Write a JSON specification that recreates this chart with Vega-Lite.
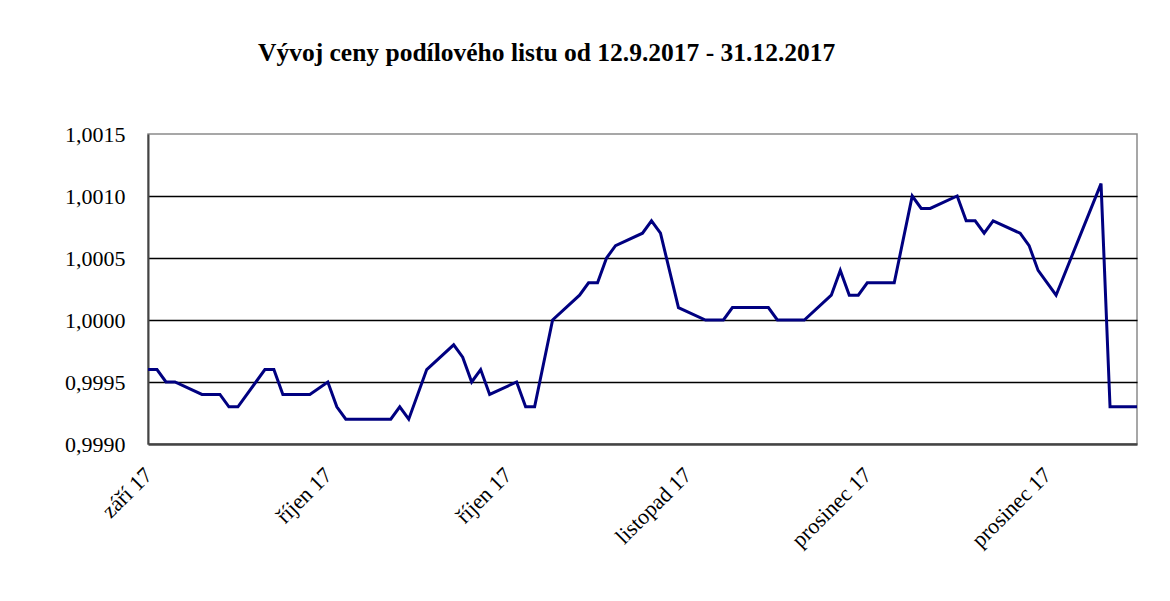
{
  "$schema": "https://vega.github.io/schema/vega-lite/v6.json",
  "width": 989,
  "height": 310,
  "autosize": {"type": "none"},
  "padding": {"left": 148, "top": 134, "right": 33, "bottom": 157},
  "background": "white",
  "title": {
    "text": "Vývoj ceny podílového listu od 12.9.2017 - 31.12.2017",
    "anchor": "start",
    "frame": "group",
    "dx": 110,
    "offset": 37,
    "baseline": "alphabetic",
    "font": "Liberation Serif",
    "fontSize": 25.5,
    "fontWeight": "bold",
    "color": "#000000"
  },
  "data": {
    "values": [
      {"den": "2017-09-12", "cena": 0.9996},
      {"den": "2017-09-13", "cena": 0.9996},
      {"den": "2017-09-14", "cena": 0.9995},
      {"den": "2017-09-15", "cena": 0.9995},
      {"den": "2017-09-18", "cena": 0.9994},
      {"den": "2017-09-20", "cena": 0.9994},
      {"den": "2017-09-21", "cena": 0.9993},
      {"den": "2017-09-22", "cena": 0.9993},
      {"den": "2017-09-25", "cena": 0.9996},
      {"den": "2017-09-26", "cena": 0.9996},
      {"den": "2017-09-27", "cena": 0.9994},
      {"den": "2017-09-30", "cena": 0.9994},
      {"den": "2017-10-02", "cena": 0.9995},
      {"den": "2017-10-03", "cena": 0.9993},
      {"den": "2017-10-04", "cena": 0.9992},
      {"den": "2017-10-09", "cena": 0.9992},
      {"den": "2017-10-10", "cena": 0.9993},
      {"den": "2017-10-11", "cena": 0.9992},
      {"den": "2017-10-13", "cena": 0.9996},
      {"den": "2017-10-16", "cena": 0.9998},
      {"den": "2017-10-17", "cena": 0.9997},
      {"den": "2017-10-18", "cena": 0.9995},
      {"den": "2017-10-19", "cena": 0.9996},
      {"den": "2017-10-20", "cena": 0.9994},
      {"den": "2017-10-23", "cena": 0.9995},
      {"den": "2017-10-24", "cena": 0.9993},
      {"den": "2017-10-25", "cena": 0.9993},
      {"den": "2017-10-27", "cena": 1.0000},
      {"den": "2017-10-30", "cena": 1.0002},
      {"den": "2017-10-31", "cena": 1.0003},
      {"den": "2017-11-01", "cena": 1.0003},
      {"den": "2017-11-02", "cena": 1.0005},
      {"den": "2017-11-03", "cena": 1.0006},
      {"den": "2017-11-06", "cena": 1.0007},
      {"den": "2017-11-07", "cena": 1.0008},
      {"den": "2017-11-08", "cena": 1.0007},
      {"den": "2017-11-10", "cena": 1.0001},
      {"den": "2017-11-13", "cena": 1.0000},
      {"den": "2017-11-15", "cena": 1.0000},
      {"den": "2017-11-16", "cena": 1.0001},
      {"den": "2017-11-20", "cena": 1.0001},
      {"den": "2017-11-21", "cena": 1.0000},
      {"den": "2017-11-24", "cena": 1.0000},
      {"den": "2017-11-27", "cena": 1.0002},
      {"den": "2017-11-28", "cena": 1.0004},
      {"den": "2017-11-29", "cena": 1.0002},
      {"den": "2017-11-30", "cena": 1.0002},
      {"den": "2017-12-01", "cena": 1.0003},
      {"den": "2017-12-04", "cena": 1.0003},
      {"den": "2017-12-06", "cena": 1.0010},
      {"den": "2017-12-07", "cena": 1.0009},
      {"den": "2017-12-08", "cena": 1.0009},
      {"den": "2017-12-11", "cena": 1.0010},
      {"den": "2017-12-12", "cena": 1.0008},
      {"den": "2017-12-13", "cena": 1.0008},
      {"den": "2017-12-14", "cena": 1.0007},
      {"den": "2017-12-15", "cena": 1.0008},
      {"den": "2017-12-18", "cena": 1.0007},
      {"den": "2017-12-19", "cena": 1.0006},
      {"den": "2017-12-20", "cena": 1.0004},
      {"den": "2017-12-22", "cena": 1.0002},
      {"den": "2017-12-27", "cena": 1.0011},
      {"den": "2017-12-28", "cena": 0.9993},
      {"den": "2017-12-31", "cena": 0.9993}
    ]
  },
  "mark": {"type": "line", "color": "#000080", "strokeWidth": 3},
  "encoding": {
    "x": {
      "field": "den",
      "type": "temporal",
      "scale": {
        "type": "utc",
        "domain": [
          {"year": 2017, "month": 9, "date": 12, "utc": true},
          {"year": 2017, "month": 12, "date": 31, "utc": true}
        ]
      },
      "axis": {
        "title": null,
        "values": [
          {"year": 2017, "month": 9, "date": 12, "utc": true},
          {"year": 2017, "month": 10, "date": 2, "utc": true},
          {"year": 2017, "month": 10, "date": 22, "utc": true},
          {"year": 2017, "month": 11, "date": 11, "utc": true},
          {"year": 2017, "month": 12, "date": 1, "utc": true},
          {"year": 2017, "month": 12, "date": 21, "utc": true}
        ],
        "labelExpr": "['leden','únor','březen','duben','květen','červen','červenec','srpen','září','říjen','listopad','prosinec'][utcmonth(datum.value)] + ' 17'",
        "labelAngle": -45,
        "labelAlign": "right",
        "labelBaseline": "middle",
        "labelPadding": 27,
        "labelOverlap": false,
        "labelFlush": false,
        "ticks": false,
        "grid": false,
        "domainColor": "#444444",
        "domainWidth": 2.5,
        "labelFont": "Liberation Serif",
        "labelFontSize": 22,
        "labelColor": "#000000"
      }
    },
    "y": {
      "field": "cena",
      "type": "quantitative",
      "scale": {"domain": [0.999, 1.0015], "nice": false, "zero": false},
      "axis": {
        "title": null,
        "values": [0.999, 0.9995, 1.0, 1.0005, 1.001, 1.0015],
        "labelExpr": "replace(format(datum.value, '.4f'), '.', ',')",
        "grid": true,
        "gridColor": {"condition": {"test": "datum.value > 1.0012 || datum.value < 0.9992", "value": "transparent"}, "value": "#000000"},
        "gridWidth": 1.5,
        "ticks": false,
        "domainColor": "#444444",
        "domainWidth": 2,
        "labelFont": "Liberation Serif",
        "labelFontSize": 22,
        "labelColor": "#000000",
        "labelPadding": 23,
        "labelBaseline": "middle",
        "labelAlign": "right"
      }
    }
  },
  "config": {
    "view": {"stroke": "#8a8a8a", "strokeWidth": 1.5},
    "font": "Liberation Serif"
  }
}
